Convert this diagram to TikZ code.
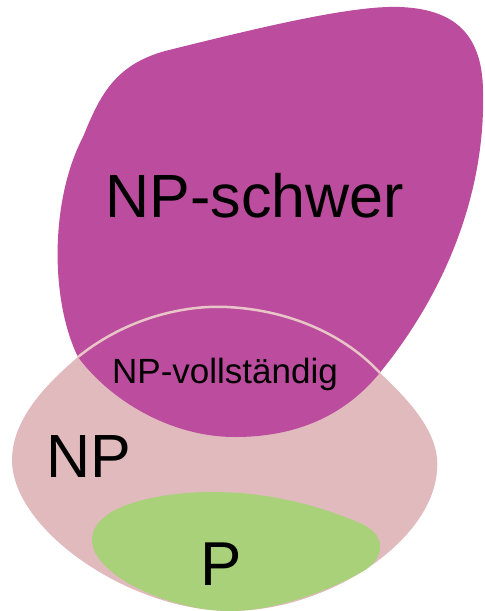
\documentclass[tikz,border=0pt]{standalone}
\usepackage{fontspec}
\setmainfont{Liberation Sans}
\definecolor{hardc}{HTML}{BC4C9E}
\definecolor{npc}{HTML}{E0BABD}
\definecolor{arcc}{HTML}{E8C6C8}
\definecolor{pc}{HTML}{A9D179}
\tikzset{
  lbl/.style={inner sep=0pt, anchor=base, text=black},
  big/.style={lbl, font=\fontsize{61}{61}\selectfont},
  mid/.style={lbl, font=\fontsize{35}{35}\selectfont},
}
\begin{document}
\begin{tikzpicture}[x=1pt,y=-1pt]
\useasboundingbox (0,0) rectangle (485,611);
% NP region
\fill[npc] (12,460) .. controls (12,420) and (45,385) .. (78,357)
  .. controls (130,315) and (190,305) .. (227,307)
  .. controls (290,310) and (345,335) .. (380,373)
  .. controls (420,410) and (440,440) .. (437,470)
  .. controls (433,540) and (330,611) .. (230,611)
  .. controls (130,611) and (12,530) .. (12,460) -- cycle;
% NP-hard region
\fill[hardc] (165,51) .. controls (250,30) and (350,5) .. (400,7)
  .. controls (450,9) and (482,30) .. (483,90)
  .. controls (486,200) and (440,300) .. (378,375)
  .. controls (340,420) and (290,437) .. (235,437)
  .. controls (170,437) and (110,400) .. (78,357)
  .. controls (50,300) and (50,200) .. (83,137)
  .. controls (100,95) and (115,65) .. (165,51) -- cycle;
% NP border drawn over NP-hard
\begin{scope}
\clip (165,51) .. controls (250,30) and (350,5) .. (400,7)
  .. controls (450,9) and (482,30) .. (483,90)
  .. controls (486,200) and (440,300) .. (378,375)
  .. controls (340,420) and (290,437) .. (235,437)
  .. controls (170,437) and (110,400) .. (78,357)
  .. controls (50,300) and (50,200) .. (83,137)
  .. controls (100,95) and (115,65) .. (165,51) -- cycle;
\draw[arcc, line width=2.5pt] (12,460) .. controls (12,420) and (45,385) .. (78,357)
  .. controls (130,315) and (190,305) .. (227,307)
  .. controls (290,310) and (345,335) .. (380,373)
  .. controls (420,410) and (440,440) .. (437,470);
\end{scope}
% P region
\fill[pc] (92,540) .. controls (92,505) and (160,492) .. (213,492)
  .. controls (280,492) and (335,512) .. (362,524)
  .. controls (388,536) and (385,560) .. (360,573)
  .. controls (320,595) and (270,611) .. (230,611)
  .. controls (170,611) and (92,575) .. (92,540) -- cycle;
% labels
\node[big] (hard) at (255,217) {NP-schwer};
\node[mid] (complete) at (225,383) {NP-vollständig};
\node[big] (np) at (89,477) {NP};
\node[big, font=\fontsize{62}{62}\selectfont] (p) at (221,585) {P};
\end{tikzpicture}
\end{document}
